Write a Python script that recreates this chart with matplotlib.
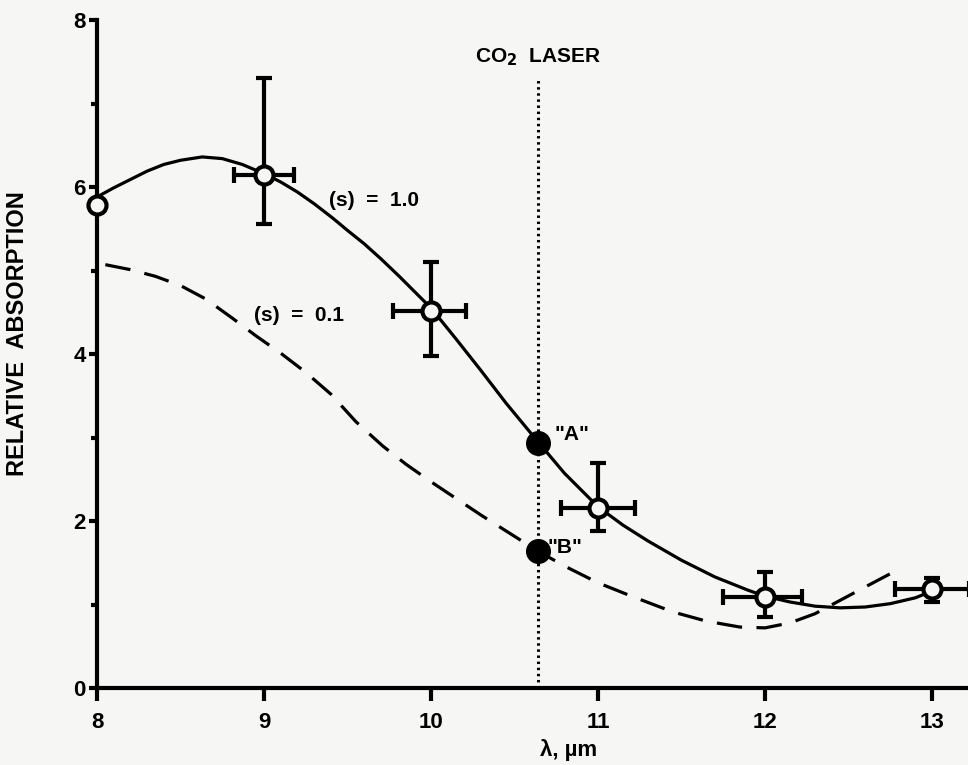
import numpy as np
import matplotlib.pyplot as plt

# данные
pt_x = [8.0, 9.0, 10.0, 11.0, 12.0, 13.0]
pt_y = [5.78, 6.14, 4.51, 2.16, 1.09, 1.19]
yerr_lo = [0.0, 0.58, 0.53, 0.28, 0.24, 0.16]
yerr_hi = [0.0, 1.16, 0.59, 0.53, 0.30, 0.13]
xerr_lo = [0.0, 0.18, 0.23, 0.22, 0.25, 0.22]
xerr_hi = [0.0, 0.18, 0.21, 0.22, 0.22, 0.22]

# (s) = 1.0 — сплошная
s1_x = [8.0, 8.1, 8.2, 8.3, 8.4, 8.5, 8.63, 8.75, 8.87, 9.0, 9.1, 9.2, 9.3,
        9.41, 9.5, 9.6, 9.7, 9.81, 9.9, 10.0, 10.15, 10.3, 10.45, 10.64,
        10.8, 11.0, 11.15, 11.3, 11.5, 11.7, 11.9, 12.0, 12.15, 12.3, 12.45,
        12.6, 12.75, 12.9, 13.0]
s1_y = [5.88, 5.99, 6.09, 6.19, 6.27, 6.32, 6.36, 6.34, 6.27, 6.16, 6.06,
        5.94, 5.80, 5.63, 5.48, 5.32, 5.14, 4.93, 4.75, 4.55, 4.18, 3.80,
        3.41, 2.95, 2.57, 2.17, 1.95, 1.76, 1.53, 1.33, 1.17, 1.10, 1.03,
        0.98, 0.96, 0.97, 1.01, 1.08, 1.16]

# (s) = 0.1 — штриховая
s01_x = [8.05, 8.2, 8.35, 8.5, 8.65, 8.81, 8.95, 9.1, 9.25, 9.4, 9.55, 9.71,
         9.85, 10.0, 10.15, 10.3, 10.45, 10.64, 10.8, 11.0, 11.2, 11.45,
         11.65, 11.85, 12.0, 12.15, 12.3, 12.45, 12.6, 12.78]
s01_y = [5.07, 5.01, 4.93, 4.82, 4.66, 4.43, 4.22, 4.01, 3.78, 3.52, 3.19,
         2.90, 2.68, 2.47, 2.27, 2.07, 1.88, 1.64, 1.46, 1.26, 1.10, 0.91,
         0.80, 0.73, 0.72, 0.78, 0.89, 1.05, 1.21, 1.40]

laser_x = 10.64
ab_y = [2.93, 1.64]

xticks = [8, 9, 10, 11, 12, 13]
yticks = [0, 2, 4, 6, 8]

paper = '#f6f6f4'
fam = ['Liberation Sans Narrow', 'Liberation Sans', 'DejaVu Sans']
plt.rcParams['font.family'] = fam
plt.rcParams['font.weight'] = 'bold'

fig = plt.figure(figsize=(9.68, 7.65), dpi=100, facecolor=paper)
ax = fig.add_axes([97 / 968, 77 / 765, 871 / 968, 668 / 765])
ax.set_facecolor(paper)

ax.plot(s1_x, s1_y, color='black', lw=2.3, zorder=3)
ax.plot(s01_x, s01_y, color='black', lw=2.3, ls=(0, (8, 4.5)), zorder=3)

ax.plot([laser_x, laser_x], [0, 7.3], color='black', lw=2.2,
        ls=(0, (0.8, 1.2)), zorder=2)
ax.text(laser_x, 7.42, 'CO$_\\mathbf{2}$  LASER', ha='center', va='bottom',
        fontsize=15, fontweight='bold')

ax.errorbar(pt_x, pt_y, yerr=[yerr_lo, yerr_hi], xerr=[xerr_lo, xerr_hi],
            fmt='o', ms=13, mfc=paper, mec='black', mew=3, ecolor='black',
            elinewidth=3, capsize=6, capthick=3, zorder=5, clip_on=False)

ax.plot([laser_x, laser_x], ab_y, 'o', color='black', ms=17, zorder=6)
ax.text(laser_x + 0.1, ab_y[0] + 0.1, '"A"', fontsize=15, fontweight='bold',
        va='center', ha='left')
ax.text(laser_x + 0.06, ab_y[1] + 0.04, '"B"', fontsize=15, fontweight='bold',
        va='center', ha='left')

ax.text(9.39, 5.84, '(s)  =  1.0', fontsize=15, fontweight='bold', va='center')
ax.text(8.94, 4.46, '(s)  =  0.1', fontsize=15, fontweight='bold', va='center')

ax.set_xlim(8, 8 + 871 / 167)
ax.set_ylim(0, 8)
ax.spines['top'].set_visible(False)
ax.spines['right'].set_visible(False)
ax.spines['left'].set_linewidth(3)
ax.spines['bottom'].set_linewidth(3)

ax.set_xticks(xticks)
ax.set_xticklabels([str(t) for t in xticks], fontsize=16, fontweight='bold')
ax.set_yticks(yticks)
ax.set_yticklabels([str(t) for t in yticks], fontsize=16, fontweight='bold')
ax.set_yticks([1, 3, 5, 7], minor=True)
ax.tick_params(axis='x', direction='out', length=9, width=3, pad=8)
ax.tick_params(axis='y', direction='out', length=6, width=3, pad=2)
ax.tick_params(axis='y', which='minor', direction='out', length=4, width=3)

ax.set_ylabel('RELATIVE  ABSORPTION', fontsize=17, fontweight='bold')
ax.yaxis.set_label_coords(-0.078, 0.53)
ax.text((569 - 97) / 871, -0.093, 'λ, µm', transform=ax.transAxes,
        ha='center', va='center', fontsize=16, fontweight='bold')

fig.savefig('out.png', dpi=100, facecolor=paper)
